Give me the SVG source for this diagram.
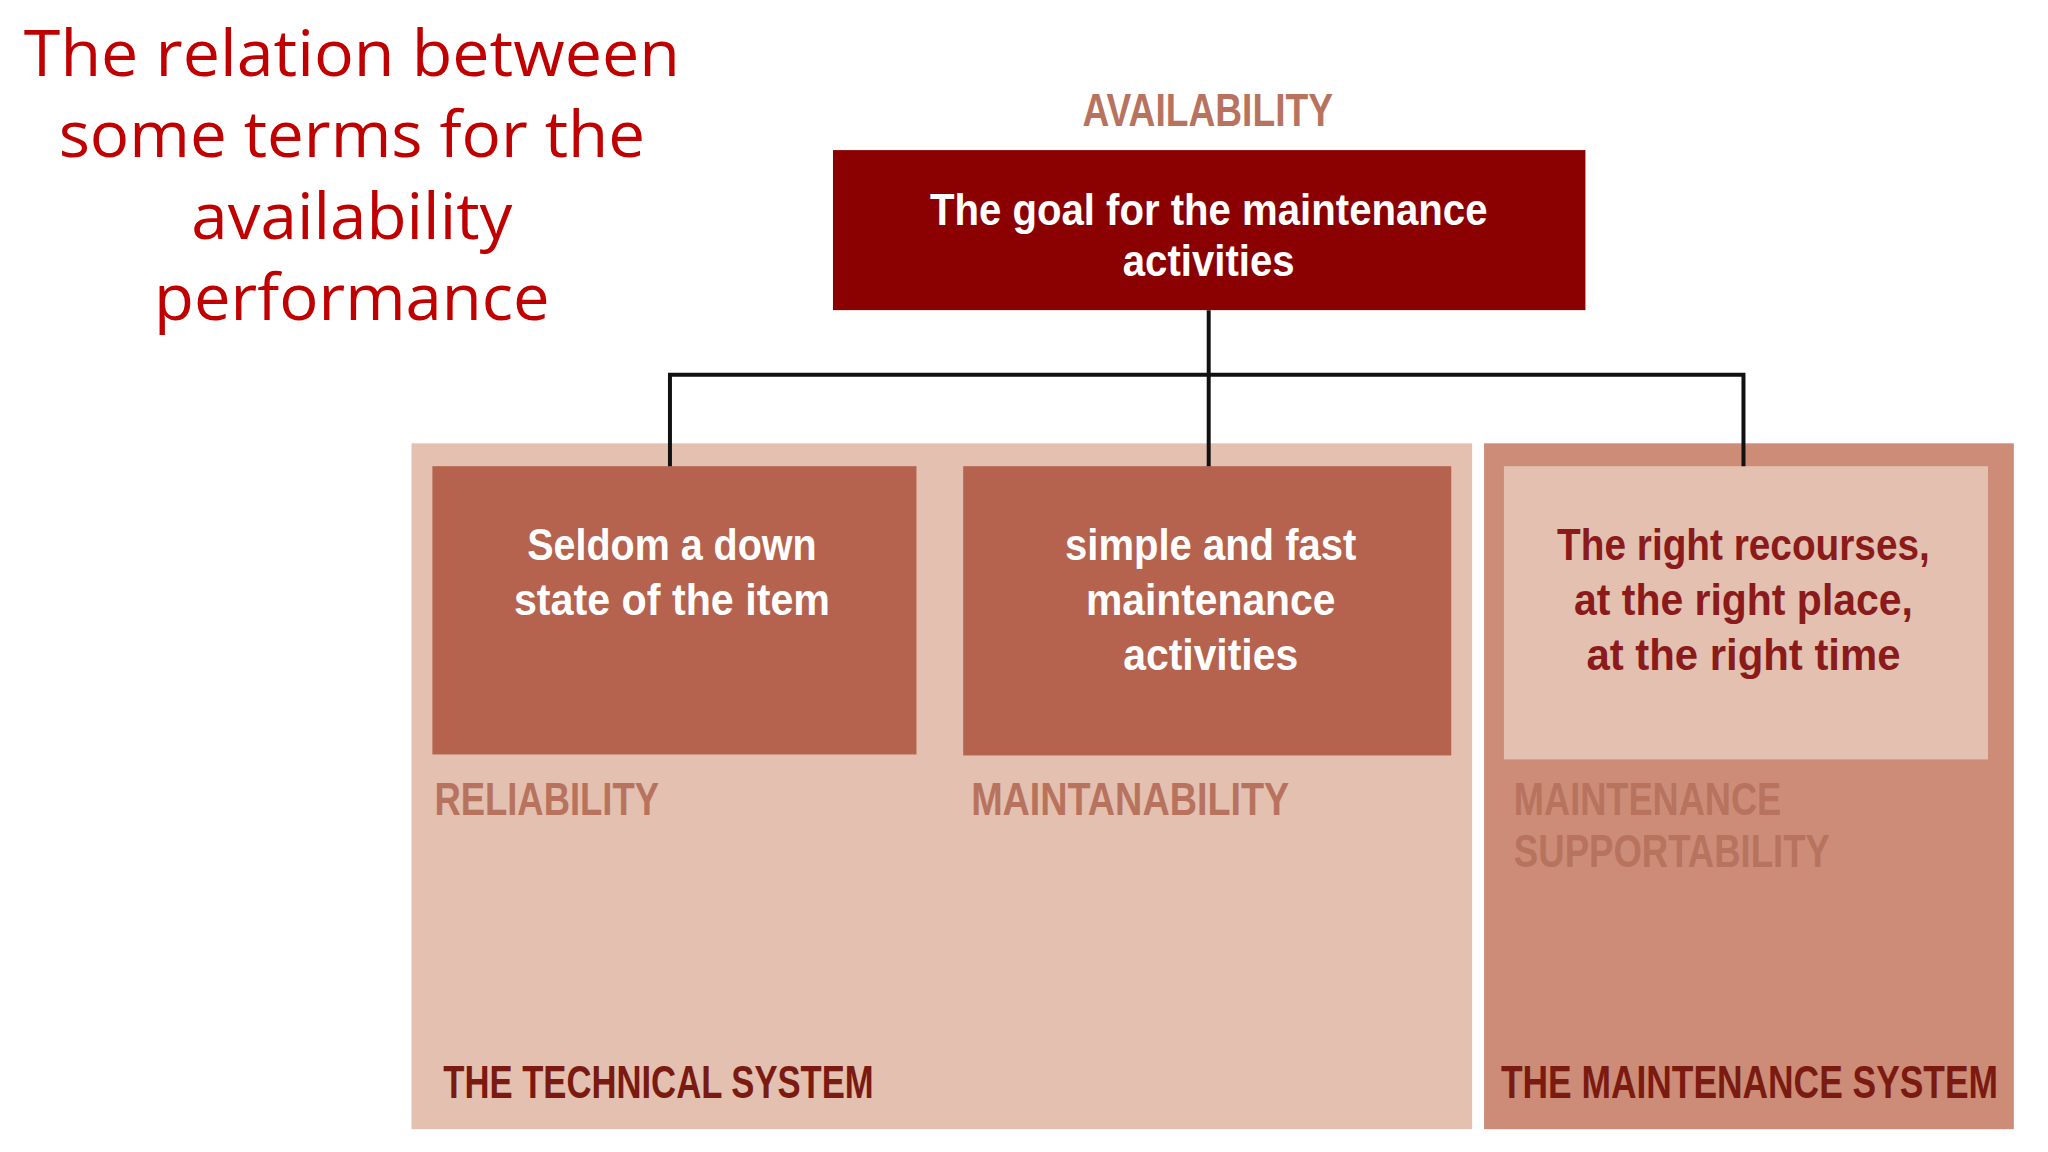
<svg xmlns="http://www.w3.org/2000/svg" width="2048" height="1152" viewBox="0 0 2048 1152">
<style>
.t{font-family:"Open Sans","Liberation Sans",sans-serif;font-size:64px;fill:#c00000;text-anchor:middle}
.c{font-family:"Liberation Sans",sans-serif;font-weight:bold;text-anchor:middle}
.w{fill:#fff;font-size:44px}
.d{fill:#8b1a1a;font-size:44px}
.l{font-family:"Liberation Sans",sans-serif;font-weight:bold;font-size:46px;fill:#b8735f}
.s{font-family:"Liberation Sans",sans-serif;font-weight:bold;font-size:46px;fill:#7a1a10}
.conn{fill:none;stroke:#111;stroke-width:4}
</style>
<rect width="2048" height="1152" fill="#fff"/>
<g transform="scale(0.994)">
<g id="title">
<text class="t" x="354" y="76" textLength="660" lengthAdjust="spacingAndGlyphs">The relation between</text>
<text class="t" x="354" y="158" textLength="590" lengthAdjust="spacingAndGlyphs">some terms for the</text>
<text class="t" x="354" y="240" textLength="323" lengthAdjust="spacingAndGlyphs">availability</text>
<text class="t" x="354" y="322" textLength="398" lengthAdjust="spacingAndGlyphs">performance</text>
</g>
<g id="technical-system">
<rect x="414" y="446" width="1067" height="690" fill="#e3c0b0"/>
<text class="s" x="446" y="1105" textLength="433" lengthAdjust="spacingAndGlyphs">THE TECHNICAL SYSTEM</text>
</g>
<g id="maintenance-system">
<rect x="1493" y="446" width="533" height="690" fill="#cc8c78"/>
<text class="s" x="1510" y="1105" textLength="500" lengthAdjust="spacingAndGlyphs">THE MAINTENANCE SYSTEM</text>
</g>
<g id="availability">
<text class="l" x="1089" y="127" textLength="252" lengthAdjust="spacingAndGlyphs">AVAILABILITY</text>
<rect x="838" y="151" width="757" height="161" fill="#8b0000"/>
<text class="c w" x="1216" y="226" textLength="561" lengthAdjust="spacingAndGlyphs">The goal for the maintenance</text>
<text class="c w" x="1216" y="278" textLength="173" lengthAdjust="spacingAndGlyphs">activities</text>
</g>
<g id="reliability">
<rect x="435" y="469" width="487" height="290" fill="#b5624e"/>
<text class="c w" x="676" y="563" textLength="291" lengthAdjust="spacingAndGlyphs">Seldom a down</text>
<text class="c w" x="676" y="619" textLength="318" lengthAdjust="spacingAndGlyphs">state of the item</text>
<text class="l" x="437" y="820" textLength="226" lengthAdjust="spacingAndGlyphs">RELIABILITY</text>
</g>
<g id="maintainability">
<rect x="969" y="469" width="491" height="291" fill="#b5624e"/>
<text class="c w" x="1218" y="563" textLength="293" lengthAdjust="spacingAndGlyphs">simple and fast</text>
<text class="c w" x="1218" y="619" textLength="251" lengthAdjust="spacingAndGlyphs">maintenance</text>
<text class="c w" x="1218" y="674" textLength="176" lengthAdjust="spacingAndGlyphs">activities</text>
<text class="l" x="977" y="820" textLength="320" lengthAdjust="spacingAndGlyphs">MAINTANABILITY</text>
</g>
<g id="supportability">
<rect x="1513" y="469" width="487" height="295" fill="#e3c0b0"/>
<text class="c d" x="1754" y="563" textLength="375" lengthAdjust="spacingAndGlyphs">The right recourses,</text>
<text class="c d" x="1754" y="619" textLength="341" lengthAdjust="spacingAndGlyphs">at the right place,</text>
<text class="c d" x="1754" y="674" textLength="316" lengthAdjust="spacingAndGlyphs">at the right time</text>
<text class="l" x="1523" y="820" textLength="269" lengthAdjust="spacingAndGlyphs">MAINTENANCE</text>
<text class="l" x="1523" y="872" textLength="318" lengthAdjust="spacingAndGlyphs">SUPPORTABILITY</text>
</g>
<g id="connectors">
<path class="conn" d="M1216 312V469"/>
<path class="conn" d="M674 469V377H1754V469"/>
</g>
</g>
</svg>
